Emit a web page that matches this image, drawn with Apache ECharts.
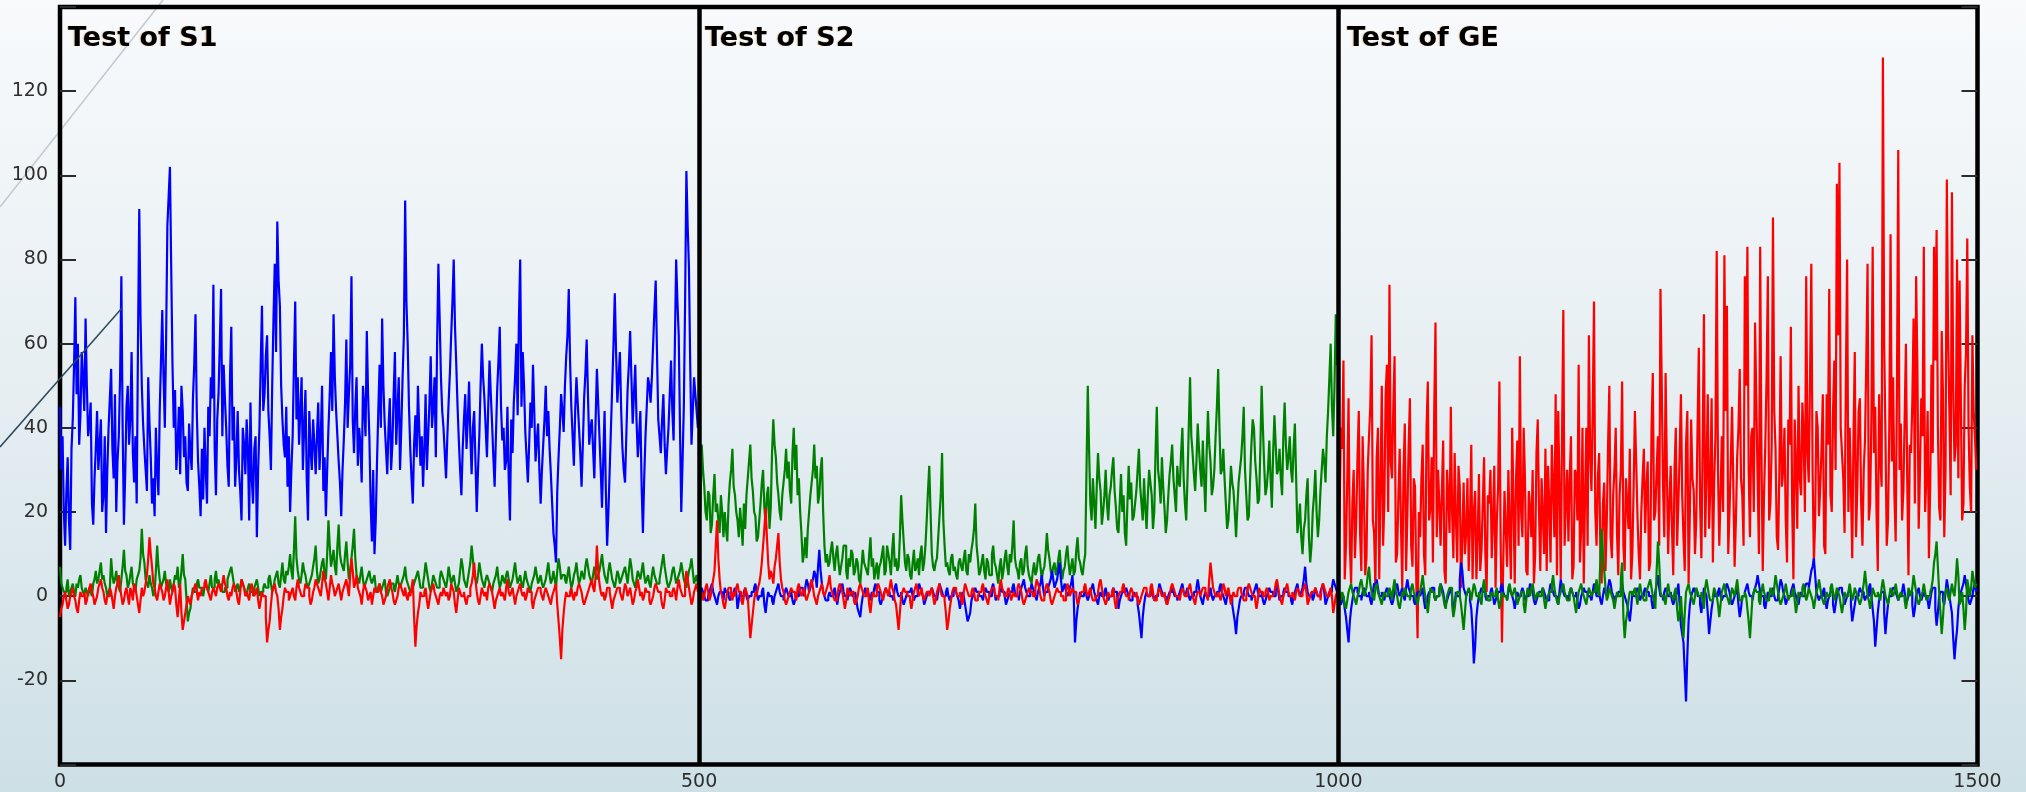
<!DOCTYPE html>
<html>
<head>
<meta charset="utf-8">
<script src="https://cdn.jsdelivr.net/npm/echarts@6/dist/echarts.min.js"></script>
<style>
html,body{margin:0;padding:0;width:2026px;height:792px;overflow:hidden;
background:linear-gradient(to bottom,#f8fafc 0%,#e6eef2 50%,#cde0e6 100%);}
#c{width:2026px;height:792px;}
</style>
</head>
<body>
<div id="c"></div>
<script>
// Panel titles and tick labels
const panelTitles = ['Test of S1', 'Test of S2', 'Test of GE'];
const panelStarts = [0, 500, 1000];
const yTicks = [-20, 0, 20, 40, 60, 80, 100, 120];
const xTicks = [0, 500, 1000, 1500];

// Values are read per panel: main arrays hold x = start, start+2, ...; "Odd" arrays hold x = start+1, start+3, ...
// Panel 1: Test of S1
const s1Blue = [45,38,12,33,11,42,71,60,43,52,66,38,46,17,35,30,42,24,15,40,54,28,20,38,76,17,45,36,58,27,22,92,50,35,25,41,22,19,30,44,68,40,88,102,55,49,36,29,44,38,25,34,47,67,32,19,23,30,45,52,74,24,48,73,55,40,26,64,45,33,30,18,36,42,18,28,35,14,40,69,48,62,38,50,79,89,69,42,33,26,20,38,70,52,44,30,49,18,35,42,29,46,38,25,19,40,58,67,44,32,19,37,61,48,76,34,52,40,27,45,63,38,13,10,32,55,66,41,29,47,36,58,44,30,52,94,60,35,22,43,50,31,26,48,38,57,45,33,79,52,40,28,46,62,80,55,37,24,42,35,51,29,44,20,38,60,47,33,56,41,26,49,64,37,30,45,18,34,52,43,80,58,39,27,46,55,32,41,22,36,50,44,29,15,8,33,48,39,57,73,45,31,52,40,26,47,61,36,42,28,54,38,21,44,12,30,50,72,46,58,35,27,49,63,41,55,33,44,15,38,52,46,60,75,42,34,48,29,40,56,37,80,62,20,45,101,78,36,52,44];
const s1BlueOdd = [30,20,25,18,35,55,48,36,58,44,50,41,22,28,44,36,20,38,30,47,35,48,32,52,40,29,50,42,34,38,60,66,41,30,52,33,28,40,24,56,52,61,95,78,40,30,45,50,33,27,41,30,55,44,26,35,40,22,38,47,35,42,60,38,47,31,52,37,26,44,25,40,29,35,46,22,38,30,55,44,57,44,30,66,58,75,50,36,45,38,30,55,42,36,52,40,28,44,30,36,38,30,50,33,30,48,44,52,38,27,30,46,40,55,42,45,31,36,50,38,48,22,30,18,44,40,50,35,40,30,48,36,52,40,62,70,45,28,36,33,40,38,35,30,46,40,52,60,66,44,34,38,53,70,64,45,30,35,48,42,38,40,32,30,50,52,40,45,48,33,38,56,45,40,32,28,42,46,60,66,45,50,33,36,40,44,37,30,30,42,38,35,22,12,25,40,44,50,62,56,38,44,46,34,36,53,48,40,35,42,46,30,33,25,20,40,60,58,52,44,30,38,55,52,48,42,38,26,28,45,50,52,68,58,38,42,36,35,48,44,60,70,40,32,70,88,55,44,48,40];
const s1Green = [7,2,1,4,1,3,0,2,5,1,2,0,1,3,6,4,8,5,2,1,9,3,6,2,4,11,5,3,7,2,4,6,16,8,3,5,2,1,12,4,3,6,2,4,1,5,7,3,10,4,-6,-3,2,1,4,2,0,3,1,5,2,6,4,3,1,2,5,7,3,2,1,4,2,0,3,1,2,4,0,1,3,2,5,1,4,6,2,8,3,5,10,4,19,6,3,8,5,2,4,7,12,3,6,9,4,18,7,11,5,17,8,6,13,4,9,16,5,3,7,2,4,6,3,5,1,3,2,4,0,2,3,1,5,2,4,7,3,1,2,4,6,2,3,8,4,1,5,3,2,6,4,2,7,3,5,1,3,9,4,2,6,12,5,3,8,4,2,5,3,1,4,7,2,5,3,6,2,4,8,3,5,2,6,3,1,4,7,3,5,2,4,8,3,6,2,9,4,5,3,7,2,5,8,3,6,4,9,5,3,7,4,6,10,5,3,8,4,2,6,3,5,7,3,9,4,2,6,4,8,3,5,2,7,4,3,6,10,5,2,4,7,3,5,8,4,2,6,9,3,5];
const s1GreenOdd = [3,1,2,0,2,1,3,4,2,0,1,2,0,4,3,6,4,3,0,2,5,4,3,1,7,6,2,5,3,1,5,9,10,4,2,3,0,6,7,2,4,3,1,2,3,4,2,6,5,-1,-4,0,1,3,2,1,2,2,3,2,4,3,2,1,2,4,6,5,1,3,2,3,1,2,1,0,3,2,1,2,2,4,3,2,5,3,5,4,6,7,6,11,9,4,5,6,3,3,5,9,6,4,8,5,10,12,9,7,12,10,7,10,8,6,12,9,4,5,4,3,5,4,4,2,2,1,3,1,1,3,2,3,3,3,5,4,2,1,3,5,4,2,5,6,2,3,4,2,4,5,3,4,5,4,3,2,6,7,3,4,8,9,4,5,6,3,4,4,2,3,5,4,3,4,5,4,3,6,5,4,3,4,4,2,3,5,5,4,3,3,6,5,4,4,6,7,5,4,5,4,3,6,5,4,5,7,7,4,5,5,5,8,7,4,6,6,3,4,5,4,6,5,6,7,3,4,5,6,5,4,3,5,5,3,4,8,7,3,3,6,5,4,6,6,3,4,7,6,4,3];
const s1Red = [-5,-2,1,-3,0,2,-1,-4,1,0,-2,1,3,0,-1,2,4,1,-2,0,1,-3,2,5,0,-1,2,-2,1,3,0,-4,2,1,5,14,7,2,-1,3,1,0,4,-2,1,2,-5,3,-8,-4,0,-2,1,3,-1,0,2,4,1,-1,2,0,3,1,5,2,-1,0,3,1,-2,4,2,1,-1,3,0,2,-3,1,0,-11,-6,1,3,0,-8,-3,2,1,0,2,-1,4,1,0,3,2,-2,1,4,2,0,6,3,-1,5,2,1,3,-1,2,4,0,9,2,5,1,-2,3,1,0,-2,2,1,3,0,-1,2,4,1,-2,0,3,1,2,-1,0,4,-12,-4,1,0,2,-3,1,3,0,-2,1,2,0,-1,3,1,-4,2,0,1,-2,0,3,8,1,-2,2,0,-1,3,1,-3,0,2,1,-1,4,0,2,-2,1,3,0,-1,2,1,-3,0,2,1,-1,2,0,-2,1,3,-6,-15,-4,1,0,2,-1,0,3,1,-2,0,2,4,1,12,3,0,-1,2,1,-3,0,2,1,-1,3,0,2,-2,1,4,0,-1,2,1,-2,0,3,1,0,-3,2,1,0,2,-1,4,1,0,6,2,-2,1,3];
const s1RedOdd = [-3,0,-1,-2,1,0,-3,-1,0,1,-1,2,1,-2,0,3,2,-1,0,2,-1,0,3,2,-2,1,0,2,-1,2,-2,-1,0,3,9,10,3,0,1,2,-1,2,1,0,3,-2,-1,-4,-6,-2,-1,0,2,1,1,2,3,2,0,1,1,2,2,3,3,0,1,2,2,-1,1,3,0,0,2,1,1,-1,-1,0,-5,-8,-2,2,1,-3,-5,0,1,-1,1,0,2,2,0,1,2,0,-1,2,3,1,3,4,1,2,3,0,2,1,1,3,2,5,6,3,2,0,1,2,-1,1,0,1,2,1,-2,0,3,2,-1,-1,2,2,0,0,1,2,-5,-7,-2,0,1,-1,-1,2,1,-1,0,0,1,1,0,2,-2,-1,1,0,-1,0,2,5,4,-1,0,1,1,2,2,-1,-1,1,0,0,2,1,1,0,0,2,1,1,0,1,-1,-1,1,2,0,1,1,-1,0,2,-2,-10,-8,-1,0,1,0,1,2,2,-1,-1,1,3,2,5,6,1,1,0,2,-1,-1,1,2,0,1,2,1,0,-1,2,2,1,0,1,-1,-1,2,2,1,-2,-1,1,0,1,1,2,2,0,3,4,0,-1,2,1];

// Panel 2: Test of S2
const s2Blue = [1,2,0,-1,1,3,0,-2,1,0,2,1,-1,0,2,-3,1,0,2,-1,0,1,3,-1,0,2,-4,1,0,-2,1,3,0,-1,2,0,1,-2,0,1,2,0,4,1,3,6,2,11,3,0,-1,1,0,2,-2,1,3,0,-1,2,0,1,-3,-5,0,2,1,-1,0,3,1,-2,0,2,1,0,-1,3,0,1,-2,0,1,2,-1,0,3,1,-2,0,1,2,0,-1,3,1,0,2,-1,0,2,0,-3,1,-2,-6,-4,0,2,1,0,-1,2,1,0,3,-1,0,2,1,-2,0,1,3,0,-1,2,4,1,0,3,1,-1,2,5,0,1,3,6,2,4,8,1,3,0,2,5,-11,-3,1,0,2,-1,1,3,0,-2,1,0,2,-1,0,2,1,-3,0,1,2,0,-1,1,0,-4,-10,-2,1,0,2,-1,0,3,1,0,-2,1,2,0,-1,1,3,0,2,-1,0,1,4,0,-2,1,0,2,-1,0,1,3,0,-2,1,0,-4,-9,-3,0,1,2,0,-1,1,3,0,1,-2,0,2,1,0,3,-1,0,2,1,0,-2,1,3,0,2,7,1,0,-1,2,0,1,3,-2,0,1,4,2];
const s2BlueOdd = [0,1,-1,0,2,1,-1,0,1,-1,1,0,0,1,1,-1,0,1,0,0,1,2,1,0,1,-2,-1,0,-1,0,2,1,0,1,1,0,-1,-1,0,2,1,2,3,2,4,5,7,6,1,-1,0,0,1,0,0,2,1,0,1,1,0,-1,-4,-2,1,0,0,1,2,1,-1,-1,1,1,0,0,2,1,0,-1,-1,1,1,0,0,1,2,0,-1,1,1,1,0,1,2,0,1,0,0,1,1,-1,-1,0,-4,-5,-1,1,1,0,0,1,1,0,2,1,0,1,1,0,-1,1,2,1,0,1,3,2,0,1,2,0,1,3,2,1,2,4,4,3,6,4,2,1,1,3,0,-6,-1,0,1,0,0,2,1,-1,0,0,1,0,0,1,1,0,-1,1,1,1,-1,0,0,-2,-7,-5,0,0,1,0,0,1,2,0,-1,0,1,1,0,0,2,1,1,0,0,1,2,2,-1,0,0,1,0,0,1,2,1,-1,0,0,-2,-6,-5,-1,0,2,1,0,0,2,1,0,-1,-1,1,1,0,2,1,0,1,1,0,-1,0,2,1,1,4,3,0,1,0,1,0,2,1,-1,1,2,3,1];
const s2Green = [14,36,26,18,24,17,29,22,15,20,20,13,27,35,24,18,21,12,16,28,36,25,19,14,22,30,17,26,21,42,33,24,18,27,35,32,22,40,36,28,15,10,9,20,27,36,31,24,33,12,10,8,13,6,12,5,9,12,4,7,10,6,8,3,11,7,5,14,9,6,4,8,12,6,10,5,15,9,7,24,13,6,9,4,11,7,5,12,8,18,31,10,6,9,19,34,12,8,5,10,7,4,9,6,11,5,8,13,22,9,6,10,4,8,5,12,7,3,9,6,11,5,8,18,7,4,9,6,12,5,3,8,6,10,4,7,15,9,5,8,6,11,4,7,12,5,9,6,14,8,5,10,50,22,28,16,34,25,20,30,18,26,33,21,15,29,24,12,31,27,19,25,35,22,28,16,30,24,20,45,27,33,21,18,29,36,24,31,26,40,22,28,52,34,25,41,30,37,20,44,32,26,38,54,29,35,22,18,31,25,14,27,33,45,24,19,36,40,28,23,50,31,26,37,21,43,29,35,24,46,30,38,27,41,15,22,10,18,28,8,20,30,14,25,35,27,44,60,38,67];
const s2GreenOdd = [22,30,20,25,15,24,20,18,24,14,16,22,30,26,20,14,17,22,24,32,28,20,13,18,27,21,24,16,34,36,27,20,24,30,28,25,34,30,24,20,8,14,16,24,30,28,22,30,20,8,7,11,9,10,8,7,12,6,9,11,5,9,4,7,8,6,10,7,4,8,7,10,5,12,8,11,7,6,14,18,8,10,5,8,6,9,10,6,12,25,20,7,8,14,24,18,7,6,9,6,5,8,7,9,6,10,11,16,12,5,8,6,9,5,10,8,5,7,4,9,7,10,12,9,6,8,5,10,7,4,6,5,9,7,6,10,11,6,7,5,9,7,6,10,8,7,5,11,9,6,8,30,35,18,22,26,28,17,24,22,24,30,25,16,22,20,15,22,23,18,22,30,26,18,21,24,27,16,34,30,22,26,15,24,32,28,20,27,34,28,18,40,38,29,32,35,26,28,34,36,24,30,45,40,30,28,16,24,27,20,21,30,38,30,18,28,42,32,22,35,40,24,30,28,34,36,30,28,38,36,33,30,35,28,18,14,16,24,14,12,24,20,18,30,32,38,52,45,50,55];
const s2Red = [-2,1,0,3,-1,2,6,18,4,0,-3,1,2,-1,0,3,1,-2,2,0,-10,-4,1,2,5,12,21,8,6,3,9,15,4,1,-2,0,2,1,-1,3,0,2,-1,1,4,0,-2,1,3,0,2,5,1,-1,0,3,1,-3,2,0,1,-2,0,3,1,0,2,-4,1,0,3,1,-1,2,0,4,1,-2,-8,0,2,1,0,-3,1,3,0,2,-1,1,0,2,-2,1,3,0,-1,-8,-3,1,2,0,1,-2,3,1,0,2,-1,0,1,3,0,-2,1,2,0,-1,4,1,0,2,-1,1,0,3,1,-2,0,2,1,0,4,2,-1,0,3,1,-2,0,2,1,0,-1,3,0,2,1,-2,0,1,3,0,2,-1,0,1,4,0,-2,1,0,2,-3,0,1,3,0,-1,2,0,1,-2,0,2,1,0,3,-1,0,2,0,1,-2,0,3,1,0,-1,2,0,1,3,0,-2,1,0,2,1,-1,8,2,0,1,-1,3,0,2,-2,1,0,2,1,-1,0,3,1,0,-3,2,1,0,2,-1,0,1,4,0,-2,1,3,0,1,-1,2,0,1,3,-2,0,1,2,0,-1,3,1,0,2,-4,0];
const s2RedOdd = [0,-1,2,1,0,4,12,9,1,-2,-1,2,0,1,2,1,-1,0,1,-5,-7,-1,0,3,8,16,14,4,5,7,12,8,2,-1,-1,1,1,0,2,1,1,0,0,3,2,-1,0,2,1,1,3,2,0,-1,2,2,-1,-1,1,1,-1,-1,2,2,0,1,-2,-1,0,2,2,0,1,1,2,2,-1,-5,-4,1,1,0,-1,-1,2,1,1,0,0,1,1,0,-1,2,1,0,-4,-6,-1,2,1,0,-1,1,2,0,1,1,-1,1,2,1,-1,0,2,1,0,2,2,0,1,1,0,0,2,2,-1,-1,1,1,0,2,3,0,-1,2,2,-1,-1,1,1,0,-1,1,2,1,1,0,-1,1,2,1,1,0,-1,0,3,2,-1,-1,0,1,-1,-1,1,2,1,0,1,1,0,-1,-1,1,2,0,2,1,-1,1,1,0,-1,-1,2,2,0,0,1,1,0,2,1,-1,0,1,1,2,0,4,5,1,0,0,1,2,1,0,0,0,1,2,0,-1,2,2,0,-1,-1,1,0,1,1,0,0,3,2,-1,0,2,1,0,0,1,1,0,2,1,-1,1,1,1,0,2,2,0,1,0,-2,1];

// Panel 3: Test of GE
const geBlue = [1,-2,0,-5,-11,-3,1,2,0,-1,2,0,1,-2,3,4,0,1,-1,2,0,-2,1,3,0,2,-1,4,1,0,-2,1,0,2,-3,0,1,2,-1,0,3,1,-2,0,2,-4,1,0,8,2,0,1,-3,-16,-5,0,2,1,-1,0,2,-2,0,1,3,0,-1,2,0,-3,1,0,2,-1,0,3,1,-2,0,1,2,0,-1,3,1,0,-2,4,1,0,-1,2,0,1,-3,0,2,1,0,-1,3,0,1,-2,2,0,4,1,-1,0,1,3,0,-2,-6,1,0,2,-1,0,2,1,0,-3,1,5,0,-1,2,0,1,-2,0,3,-7,-11,-25,-6,0,2,1,0,-4,2,0,-9,-3,1,0,2,-1,0,3,1,-2,0,2,-5,0,1,3,0,-1,2,5,1,0,-3,1,0,2,-1,0,4,1,-2,0,1,3,0,-2,1,0,3,2,6,9,1,-1,0,2,-3,0,1,-4,0,2,1,-2,0,1,-6,-2,0,2,1,-1,0,3,-3,-12,-4,0,1,-9,-2,0,2,1,-1,0,3,-2,0,1,-5,0,2,-1,1,0,-3,1,2,-7,0,1,-2,4,0,-4,-15,-8,0,2,5,1,-2,0,3];
const geBlueOdd = [-1,-1,-3,-8,-6,-1,2,1,0,1,1,0,-1,1,3,2,0,0,1,1,-1,-1,2,1,1,0,2,2,0,-1,0,1,1,-1,-2,1,2,0,0,1,2,-1,-1,1,0,-2,0,4,6,1,1,-1,-8,-12,-2,1,1,0,0,1,0,-1,1,2,1,0,1,1,-1,-1,0,1,1,0,1,2,-1,-1,1,1,1,-1,1,2,0,-1,1,2,0,0,1,1,0,-1,-2,1,1,0,0,1,2,0,-1,0,1,2,3,0,0,1,2,1,-1,-4,-3,0,1,1,0,1,1,0,-1,-1,3,2,0,1,1,0,-1,-1,1,-2,-9,-18,-14,-2,1,1,0,-2,-1,1,-4,-6,-1,0,1,0,0,2,2,-1,-1,1,-2,-3,0,2,1,0,1,3,3,0,-2,-1,0,1,0,-1,2,3,0,-1,0,2,1,-1,0,0,2,3,4,7,5,0,0,1,-1,-1,1,-2,-2,1,2,0,-1,1,-2,-4,0,1,1,0,0,2,0,-6,-8,-1,1,-4,-5,0,1,2,0,0,1,1,-1,1,-2,-3,1,0,0,0,-1,-1,2,-3,-4,1,-1,1,2,-2,-10,-11,-3,1,3,3,-1,-1,2,1];
const geGreen = [2,-1,0,-3,1,3,0,-2,1,4,0,2,7,1,-1,3,0,-2,1,0,2,-1,4,0,-3,1,2,0,-1,3,0,-2,1,5,0,-4,2,1,-1,0,3,0,-3,1,2,-5,0,1,-2,-8,0,2,-1,3,0,1,-2,4,0,-1,1,0,2,-3,1,0,-1,3,0,2,-2,0,1,-4,2,0,3,-1,1,0,2,-3,0,1,5,0,-2,1,3,0,-1,2,0,-4,1,3,0,-2,2,0,1,4,0,16,6,-1,2,0,-3,1,0,8,-10,-4,1,0,2,-2,3,0,-1,2,4,0,-3,13,1,0,-2,3,0,-1,2,-6,0,-10,1,3,0,-2,2,0,1,-3,4,0,-1,2,0,-5,1,3,0,-2,2,0,4,-1,0,1,-3,-10,0,2,1,-2,3,0,-1,2,0,5,1,-2,0,3,-1,0,2,-4,1,0,3,-1,2,0,-3,1,4,0,-2,1,0,3,-1,2,0,-4,1,0,3,-1,2,0,-2,1,6,0,-3,2,0,1,-1,4,0,-2,2,0,3,-1,1,0,-3,2,0,5,1,-2,0,3,-1,0,2,8,13,1,-9,0,2,-1,3,0,9,-2,1,-8,4,0,6,2];
const geGreenOdd = [0,1,-2,-1,2,1,-1,0,3,2,1,5,3,0,2,1,-1,0,0,1,1,2,1,-2,-1,0,1,0,2,1,-1,0,3,2,-2,-1,1,0,0,2,1,-2,0,2,-2,-3,1,0,-5,-4,1,1,1,2,0,-1,2,1,-1,0,0,1,-1,-1,0,0,2,1,1,0,-1,1,-2,-1,1,2,1,0,0,1,-1,-1,1,3,2,-1,0,2,1,-1,1,1,-2,-1,2,1,-1,0,1,1,2,1,9,10,2,0,1,-1,-1,0,4,-5,-6,-1,1,1,0,1,1,-1,1,3,2,-1,6,8,0,-1,1,1,0,1,-3,-4,-5,-4,2,1,-1,0,1,0,-1,2,2,-1,0,1,-2,-2,2,1,-1,0,1,2,1,-1,0,0,-6,-5,1,1,-1,1,1,-1,0,1,2,3,-1,-1,1,1,0,1,-1,-2,0,2,1,0,1,-1,-1,2,2,-1,-1,0,2,1,0,1,-2,-2,0,1,1,0,1,-1,-1,3,3,-1,-1,1,0,0,2,2,-1,0,1,1,1,0,0,-1,-1,1,2,3,-1,-1,1,1,0,1,4,10,7,-4,-5,1,0,1,1,4,5,-1,-3,-4,2,2,4,3];
const geRed = [8,40,56,12,47,3,30,18,44,6,25,9,38,62,15,33,4,50,22,55,74,28,57,10,35,2,41,19,47,7,26,-10,14,36,5,51,21,8,65,30,12,37,3,24,45,9,18,31,2,27,15,6,36,20,4,29,11,33,1,22,9,31,18,51,-11,25,7,16,40,3,37,57,14,28,5,21,30,10,42,6,19,35,31,8,26,48,44,4,68,22,13,38,7,29,55,16,3,40,62,25,70,12,34,3,27,18,50,9,30,15,24,51,6,22,35,10,44,19,4,28,15,32,8,53,20,38,73,26,53,10,31,5,40,22,48,14,36,3,42,25,18,59,9,67,30,16,47,27,82,12,38,81,69,20,45,7,33,54,24,76,83,14,40,65,28,83,6,36,76,22,90,35,11,57,30,18,42,64,4,31,50,24,38,76,27,79,8,44,19,35,12,48,73,20,56,98,103,34,15,80,40,9,58,26,47,12,37,79,22,83,45,6,33,128,38,18,86,52,13,106,41,25,60,5,34,66,76,16,47,83,28,9,55,83,87,21,63,14,99,44,96,32,80,75,18,50,85,26,62,38];
const geRedOdd = [20,35,4,28,12,22,9,33,15,38,5,30,45,18,2,40,26,12,48,20,32,45,8,24,17,30,6,36,12,28,3,20,28,10,40,18,33,44,14,22,25,6,30,15,20,34,8,26,14,10,28,18,4,25,14,6,22,10,24,30,18,2,26,12,8,16,30,4,22,28,12,20,40,6,25,14,3,34,20,28,10,6,22,36,14,5,26,38,12,30,28,4,30,18,8,40,24,12,34,44,20,28,10,22,6,36,14,24,40,5,30,12,28,16,4,26,32,10,20,35,26,6,40,18,30,12,50,14,30,22,16,30,12,34,24,6,44,20,28,10,40,22,36,14,48,26,8,38,30,24,20,44,10,32,26,18,40,28,12,50,30,38,20,46,10,34,24,52,18,36,44,14,30,26,40,8,36,22,42,16,28,46,20,34,52,30,18,40,26,48,10,36,24,44,30,62,40,28,50,20,26,38,14,44,22,30,56,18,42,34,20,48,26,60,12,40,32,24,50,30,18,42,28,36,46,22,54,30,38,20,44,26,34,56,40,18,48,30,62,24,50,36,28,46,22,58,40,20,44,30];

const BLUE = '#0000ff', GREEN = '#008000', RED = '#ff0000';

// merge the even-x and odd-x readings of one panel into [x, y] points
function toPoints(even, odd, start) {
  const pts = [];
  for (let i = 0; i < even.length; i++) {
    pts.push([start + 2 * i, even[i]]);
    if (i < odd.length) pts.push([start + 2 * i + 1, odd[i]]);
  }
  return pts;
}
function lineSeries(name, even, odd, start, color) {
  return {
    name: name, type: 'line', step: 'end',
    data: toPoints(even, odd, start),
    showSymbol: false, symbol: 'none',
    lineStyle: { color: color, width: 2.2 },
    itemStyle: { color: color },
    silent: true, animation: false, z: 2
  };
}

const chart = echarts.init(document.getElementById('c'), null, { renderer: 'canvas' });

const series = [
  lineSeries('S1 blue', s1Blue, s1BlueOdd, panelStarts[0], BLUE),
  lineSeries('S1 green', s1Green, s1GreenOdd, panelStarts[0], GREEN),
  lineSeries('S1 red', s1Red, s1RedOdd, panelStarts[0], RED),
  lineSeries('S2 green', s2Green, s2GreenOdd, panelStarts[1], GREEN),
  lineSeries('S2 blue', s2Blue, s2BlueOdd, panelStarts[1], BLUE),
  lineSeries('S2 red', s2Red, s2RedOdd, panelStarts[1], RED),
  lineSeries('GE red', geRed, geRedOdd, panelStarts[2], RED),
  lineSeries('GE blue', geBlue, geBlueOdd, panelStarts[2], BLUE),
  lineSeries('GE green', geGreen, geGreenOdd, panelStarts[2], GREEN),
  {
    type: 'line', data: [], z: 10, silent: true, animation: false,
    markLine: {
      silent: true, symbol: ['none', 'none'], animation: false,
      label: { show: false },
      lineStyle: { color: '#000', width: 4.5, type: 'solid' },
      data: [{ xAxis: panelStarts[1] }, { xAxis: panelStarts[2] }]
    }
  }
];

const titleLefts = [68, 705, 1347];
const titles = panelTitles.map((t, k) => ({
  text: t, left: titleLefts[k], top: 25, padding: 0,
  textStyle: {
    fontFamily: 'DejaVu Sans', fontWeight: 'bold', fontSize: 27, color: '#000',
    textShadowColor: 'rgba(210,130,40,0.45)', textShadowBlur: 1, textShadowOffsetX: -1, textShadowOffsetY: 0
  }
}));

chart.setOption({
  backgroundColor: 'transparent',
  animation: false,
  title: titles,
  grid: {
    left: 60, right: 48.5, top: 7, bottom: 27.5,
    show: true, borderColor: '#000', borderWidth: 4.5, backgroundColor: 'transparent',
    containLabel: false
  },
  xAxis: {
    type: 'value', min: xTicks[0], max: xTicks[xTicks.length - 1], interval: 500,
    axisLine: { show: false }, axisTick: { show: false }, splitLine: { show: false },
    axisLabel: {
      show: true, margin: 8, fontFamily: 'DejaVu Sans', fontSize: 19, color: '#2e2e2e',
      showMinLabel: true, showMaxLabel: true,
      formatter: v => (xTicks.indexOf(v) >= 0 ? String(v) : '')
    }
  },
  yAxis: [
    {
      type: 'value', min: -40, max: 140, interval: 20,
      axisLine: { show: false }, splitLine: { show: false },
      axisTick: { show: true, inside: true, length: 16, lineStyle: { color: '#2a2a2a', width: 2 } },
      axisLabel: {
        show: true, margin: 12, fontFamily: 'DejaVu Sans', fontSize: 19, color: '#2e2e2e',
        formatter: v => (yTicks.indexOf(v) >= 0 ? String(v) : '')
      }
    },
    {
      type: 'value', min: -40, max: 140, interval: 20, position: 'right',
      axisLine: { show: false }, splitLine: { show: false },
      axisTick: { show: true, inside: true, length: 16, lineStyle: { color: '#2a2a2a', width: 2 } },
      axisLabel: { show: false }
    }
  ],
  series: series,
  graphic: [
    { type: 'line', z: -1, silent: true,
      shape: { x1: 0, y1: 207, x2: 163, y2: 0 },
      style: { stroke: '#c2cacf', lineWidth: 1.5 } },
    { type: 'line', z: 100, silent: true,
      shape: { x1: 0, y1: 447, x2: 122, y2: 308 },
      style: { stroke: '#2c4a58', lineWidth: 1.5 } }
  ]
});
</script>
</body>
</html>
